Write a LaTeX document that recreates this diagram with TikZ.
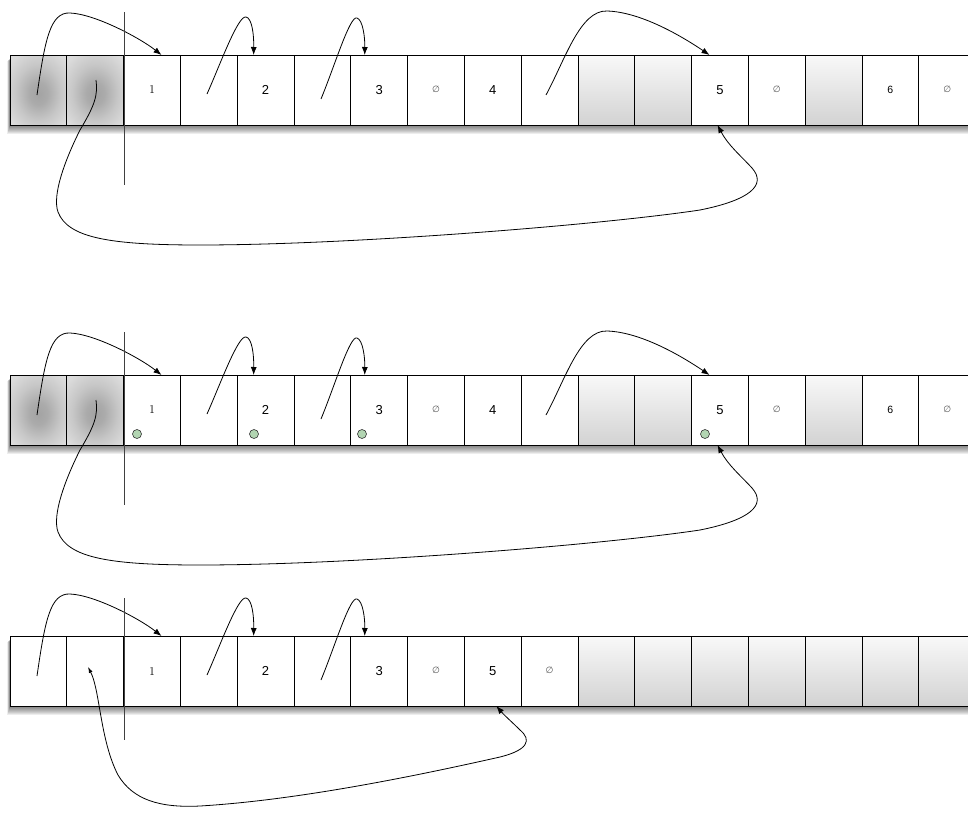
\documentclass[tikz,border=0pt]{standalone}
\usepackage{fontspec}
\newfontfamily\hv{Liberation Sans}
\newfontfamily\dv{DejaVu Sans}
\usetikzlibrary{arrows.meta}
\newcommand{\Lone}{{\rmfamily\fontsize{12}{12}\selectfont 1}}
\newcommand{\Lnum}[1]{{\hv\fontsize{13}{14}\selectfont #1}}
\newcommand{\Lsix}{{\hv\fontsize{10.5}{11}\selectfont 6}}
\newcommand{\Lnil}{{\dv\fontsize{9}{9}\selectfont\color{black!65}\raisebox{1.5pt}{∅}}}
\pgfdeclareradialshading{cellrad}{\pgfpoint{0bp}{-3bp}}{color(0bp)=(black!36); color(8bp)=(black!33); color(20bp)=(black!22); color(32bp)=(black!14); color(50bp)=(black!10)}
\tikzset{
  cell/.style={draw, line width=0.9pt, minimum width=56.8pt, minimum height=70pt, inner sep=0pt, outer sep=0pt},
  cellr/.style={cell, shading=cellrad},
  celll/.style={cell, top color=gray!5, bottom color=gray!35},
  cellw/.style={cell, fill=white},
  ptr/.style={line width=0.8pt, -{Latex[length=8pt,width=6pt]}},
  vline/.style={line width=0.8pt, draw=black!75},
  dot/.style={circle, draw=black!80, line width=0.6pt, fill=green!45!black!30!white, minimum size=9pt, inner sep=0pt}
}
\begin{document}
\begin{tikzpicture}[x=1pt,y=-1pt]
\path[use as bounding box] (0,0) rectangle (968,819);
\clip (0,0) rectangle (968,819);
% shadows
\foreach \dy in {0,320,581}{
  \foreach \k in {1,...,9}{
    \fill[black,opacity=0.07] ({10-\k*0.3},{58+\dy+\k*0.3}) rectangle (980,{125+\dy+\k});
  }
}
% rows a and b
\foreach \r/\dy in {a/0,b/320}{
  \foreach \i/\s/\t in {0/cellr/{},1/cellr/{},2/cellw/{\Lone},3/cellw/{},4/cellw/{\Lnum{2}},5/cellw/{},6/cellw/{\Lnum{3}},7/cellw/{\Lnil},8/cellw/{\Lnum{4}},9/cellw/{},10/celll/{},11/celll/{},12/cellw/{\Lnum{5}},13/cellw/{\Lnil},14/celll/{},15/cellw/{\Lsix},16/cellw/{\Lnil}}{
    \node[\s] (\r\i) at ({38.4+56.8*\i},{90+\dy}) {\t};
  }
}
% row c
\foreach \i/\s/\t in {0/cellw/{},1/cellw/{},2/cellw/{\Lone},3/cellw/{},4/cellw/{\Lnum{2}},5/cellw/{},6/cellw/{\Lnum{3}},7/cellw/{\Lnil},8/cellw/{\Lnum{5}},9/cellw/{\Lnil},10/celll/{},11/celll/{},12/celll/{},13/celll/{},14/celll/{},15/celll/{},16/celll/{}}{
  \node[\s] (c\i) at ({38.4+56.8*\i},671) {\t};
}
% top pointers
\foreach \r/\dy in {a/0,b/320,c/581}{
  \begin{scope}[yshift=-\dy pt]
    \coordinate (\r q0) at (37,95);
    \coordinate (\r q3) at (207,94);
    \coordinate (\r q5) at (321,99);
    \draw[ptr] (\r q0) .. controls (45,40) and (50,12) .. (70,13) .. controls (95,14) and (140,38) .. ([xshift=9.5pt]\r2.north);
    \draw[ptr] (\r q3) .. controls (220,65) and (238,15) .. (246,17) .. controls (252,18) and (254,35) .. ([xshift=-12pt]\r4.north);
    \draw[ptr] (\r q5) .. controls (335,65) and (350,15) .. (357,18) .. controls (363,20) and (365,38) .. ([xshift=-14.5pt]\r6.north);
  \end{scope}
}
% long pointers and back loops, rows a, b
\foreach \r/\dy in {a/0,b/320}{
  \begin{scope}[yshift=-\dy pt]
    \coordinate (\r q9) at (546,95);
    \coordinate (\r q1) at (96,80);
    \draw[ptr] (\r q9) .. controls (565,60) and (580,10) .. (607,11) .. controls (640,12) and (680,35) .. ([xshift=-10.5pt]\r12.north);
    \draw[ptr] (\r q1) .. controls (98,95) and (95,105) .. (80,130) .. controls (65,160) and (52,195) .. (58,212) .. controls (68,238) and (110,245) .. (200,245) .. controls (350,245) and (600,225) .. (700,210) .. controls (750,200) and (767,185) .. (752,168) .. controls (740,155) and (728,145) .. ([xshift=-2.5pt]\r12.south);
    \coordinate (\r vt) at (124,12);
    \coordinate (\r vb) at (124,185);
    \draw[vline] (\r vt) -- (\r vb);
  \end{scope}
}
% row c back loop and vertical line
\coordinate (cq1) at (88,667);
\draw[line width=0.8pt, {Latex[length=6pt,width=4pt]}-{Latex[length=8pt,width=6pt]}] (cq1) .. controls (100,690) and (100,740) .. (118,775) .. controls (133,800) and (160,808) .. (200,806) .. controls (300,800) and (420,775) .. (500,757) .. controls (528,750) and (532,740) .. (520,730) .. controls (512,722) and (505,716) .. ([xshift=3.5pt]c8.south);
\coordinate (cvt) at (124,598);
\coordinate (cvb) at (124,740);
\draw[vline] (cvt) -- (cvb);
% green dots
\node[dot] (g1) at (137,434) {};
\node[dot] (g2) at (254,434) {};
\node[dot] (g3) at (362,434) {};
\node[dot] (g4) at (705,434) {};
\end{tikzpicture}
\end{document}
